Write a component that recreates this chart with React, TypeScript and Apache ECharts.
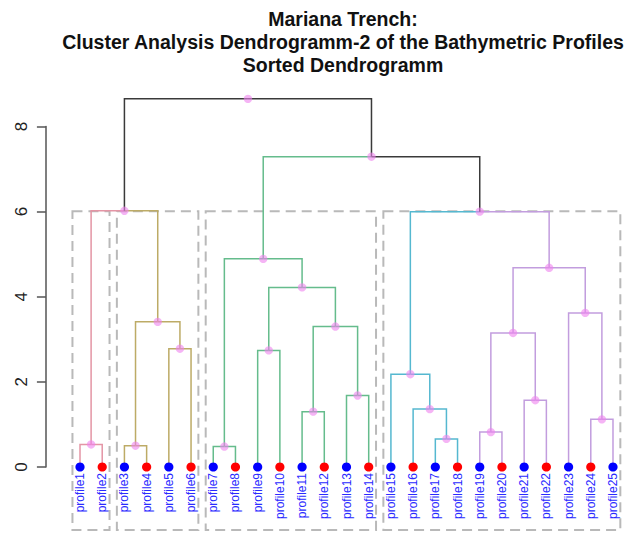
import React, { useEffect, useRef } from "react";
import * as echarts from "echarts";

const leafLabels = [
  "profile1", "profile2", "profile3", "profile4", "profile5", "profile6", "profile7",
  "profile8", "profile9", "profile10", "profile11", "profile12", "profile13", "profile14",
  "profile15", "profile16", "profile17", "profile18", "profile19", "profile20", "profile21",
  "profile22", "profile23", "profile24", "profile25",
];
const leafDotColors = [
  "#0000ff", "#ff0000", "#0000ff", "#ff0000", "#0000ff", "#ff0000", "#0000ff",
  "#ff0000", "#0000ff", "#ff0000", "#0000ff", "#ff0000", "#0000ff", "#ff0000",
  "#0000ff", "#ff0000", "#0000ff", "#ff0000", "#0000ff", "#ff0000", "#0000ff",
  "#ff0000", "#0000ff", "#ff0000", "#0000ff",
];
// cluster (k = 5) of every leaf, for branch colours
const leafCluster = [0, 0, 1, 1, 1, 1, 2, 2, 2, 2, 2, 2, 2, 2, 3, 3, 3, 3, 4, 4, 4, 4, 4, 4, 4];
const clusterColors = ["#E495A5", "#BDAB66", "#65BC8C", "#55B8D0", "#C29DDE"];

// merges, R style: negative = leaf number, positive = earlier merge number (1-based)
const mergeLeft = [-7, -3, -1, -17, -19, -24, -11, -16, -21, -13, -15, -9, -5, 7, 2, 5, -23, 12, 16, 1, 11, 3, 20, 22];
const mergeRight = [-8, -4, -2, -18, -20, -25, -12, 4, -22, -14, 8, -10, -6, 10, 13, 9, 6, 14, 17, 18, 19, 15, 21, 23];
const mergeHeight = [0.48, 0.5, 0.53, 0.66, 0.82, 1.12, 1.3, 1.36, 1.57, 1.68, 2.18, 2.74, 2.78, 3.3, 3.41, 3.15, 3.62, 4.22, 4.68, 4.89, 6.0, 6.02, 7.29, 8.65];

// rect.hclust boxes (k = 4): first and last leaf of each box
const rectFirst = [1, 3, 7, 15];
const rectLast = [2, 6, 14, 25];
const rectTop = 6.01;
const rectBottom = -1.48;

const yMin = 0;
const yMax = 8;
const yStep = 2;

type Node = { x: number; h: number; clusters: Set<number> };

function buildNodes() {
  const leaves: Node[] = leafLabels.map((_, i) => ({ x: i, h: 0, clusters: new Set([leafCluster[i]]) }));
  const merges: Node[] = [];
  const get = (ref: number) => (ref < 0 ? leaves[-ref - 1] : merges[ref - 1]);
  const edges: { parent: Node; child: Node }[] = [];
  mergeLeft.forEach((l, k) => {
    const a = get(l);
    const b = get(mergeRight[k]);
    const node: Node = {
      x: (a.x + b.x) / 2,
      h: mergeHeight[k],
      clusters: new Set([...a.clusters, ...b.clusters]),
    };
    merges.push(node);
    edges.push({ parent: node, child: a }, { parent: node, child: b });
  });
  return { leaves, merges, edges };
}

const colorOf = (n: Node) => (n.clusters.size === 1 ? clusterColors[[...n.clusters][0]] : "#3a3a3a");

export default function App() {
  const ref = useRef<HTMLDivElement>(null);
  useEffect(() => {
    if (!ref.current) return;
    const chart = echarts.init(ref.current, undefined, { renderer: "svg" });
    const { leaves, merges, edges } = buildNodes();
    chart.setOption({
      animation: false,
      backgroundColor: "#ffffff",
      title: {
        text: "Mariana Trench:\nCluster Analysis Dendrogramm-2 of the Bathymetric Profiles\nSorted Dendrogramm",
        left: 343,
        top: 7.5,
        textAlign: "center",
        padding: 0,
        textStyle: {
          fontFamily: "Liberation Sans",
          fontWeight: "bold",
          fontSize: 19.5,
          lineHeight: 23,
          color: "#111111",
        },
      },
      grid: { left: 68.9, right: 13.9, top: 126.5, bottom: 66 },
      xAxis: [
        { type: "value", min: -0.5, max: 24.5, show: false, position: "top" },
        {
          type: "category",
          data: leafLabels,
          position: "bottom",
          axisLine: { show: false },
          axisTick: { show: false },
          axisLabel: {
            rotate: 90,
            interval: 0,
            margin: 6,
            fontSize: 12,
            fontFamily: "Liberation Sans",
            color: "#2a2aff",
          },
        },
      ],
      yAxis: {
        type: "value",
        min: yMin,
        max: yMax,
        interval: yStep,
        offset: 23,
        splitLine: { show: false },
        axisLine: { show: true, onZero: false, lineStyle: { color: "#555555", width: 1.5 } },
        axisTick: { show: true, length: 9, lineStyle: { color: "#555555", width: 1.5 } },
        axisLabel: {
          rotate: 90,
          margin: 16,
          fontSize: 17,
          fontFamily: "Liberation Sans",
          color: "#222222",
        },
      },
      series: [
        {
          type: "custom",
          xAxisIndex: 0,
          yAxisIndex: 0,
          clip: false,
          data: [[0, 0]],
          encode: { x: 0, y: 1 },
          renderItem: (_params: any, api: any) => {
            const P = (x: number, y: number) => api.coord([x, y]);
            const children: any[] = [];
            // dashed boxes
            rectFirst.forEach((f, i) => {
              const [x0, y0] = P(f - 1 - 0.34, rectTop);
              const [x1, y1] = P(rectLast[i] - 1 + 0.33, rectBottom);
              children.push({
                type: "rect",
                shape: { x: x0, y: y0, width: x1 - x0, height: y1 - y0 },
                style: { fill: "none", stroke: "#b9b9b9", lineWidth: 2, lineDash: [10, 6] },
              });
            });
            // branches
            edges.forEach(({ parent, child }) => {
              const [px, py] = P(parent.x, parent.h);
              const [cx, cy] = P(child.x, child.h);
              children.push({
                type: "polyline",
                shape: { points: [[px, py], [cx, py], [cx, cy]] },
                style: { fill: "none", stroke: colorOf(child), lineWidth: 1.5 },
              });
            });
            // node points
            merges.forEach((n) => {
              const [x, y] = P(n.x, n.h);
              children.push({
                type: "circle",
                shape: { cx: x, cy: y, r: 4.2 },
                style: { fill: "rgba(238,130,238,0.6)" },
              });
            });
            leaves.forEach((n, i) => {
              const [x, y] = P(n.x, n.h);
              children.push({
                type: "circle",
                shape: { cx: x, cy: y, r: 4.6 },
                style: { fill: leafDotColors[i] },
              });
            });
            return { type: "group", children };
          },
        },
      ],
    });
    return () => chart.dispose();
  }, []);
  return <div ref={ref} style={{ position: "absolute", left: 0, top: 0, width: 638, height: 533 }} />;
}
